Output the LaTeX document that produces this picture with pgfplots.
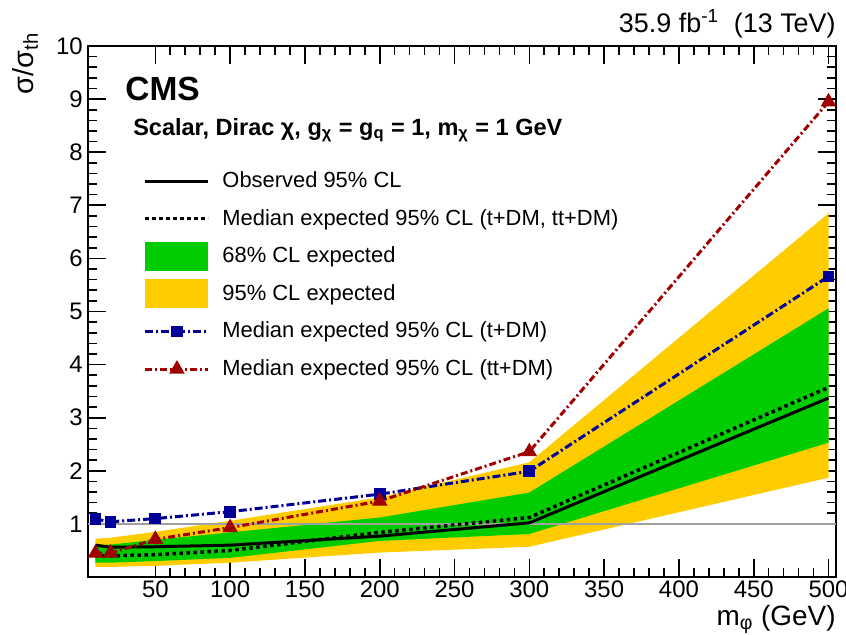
\documentclass[border=0pt]{standalone}
\usepackage{pgfplots}
\pgfplotsset{compat=1.18}
\usepackage{fontspec}
\setmainfont{Liberation Sans}
\definecolor{cmsgreen}{RGB}{0,204,0}
\definecolor{cmsyellow}{RGB}{255,204,0}
\definecolor{cmsblue}{RGB}{0,0,153}
\definecolor{cmsred}{RGB}{160,0,0}
\definecolor{lgray}{RGB}{160,160,160}
\tikzset{
  obsst/.style={black, line width=1.5bp},
  expst/.style={black, line width=1.75bp, dash pattern=on 1.75bp off 1.75bp},
  bluest/.style={cmsblue, line width=1.5bp, dash pattern=on 4bp off 1.5bp on 1bp off 1.5bp, mark=square*, mark size=2.2bp, mark options={solid}},
  redst/.style={cmsred, line width=1.5bp, dash pattern=on 3.5bp off 1.5bp on 1bp off 1.5bp, mark=triangle*, mark size=3bp, mark options={solid}},
  legbox/.style={draw=none, fill=none},
}
\pgfplotsset{
  legobs/.style={legend image code/.code={\path[legbox] (0bp,-9.4bp) rectangle (38.5bp,9.4bp);
      \draw[obsst] (0bp,0bp) -- (31.5bp,0bp);}},
  legexp/.style={legend image code/.code={\path[legbox] (0bp,-9.4bp) rectangle (38.5bp,9.4bp);
      \draw[expst] (0bp,0bp) -- (31.5bp,0bp);}},
  leggreen/.style={legend image code/.code={\path[legbox] (0bp,-9.4bp) rectangle (38.5bp,9.4bp);
      \fill[cmsgreen, draw=none] (0bp,-7.25bp) rectangle (31.5bp,7.25bp);}},
  legyellow/.style={legend image code/.code={\path[legbox] (0bp,-9.4bp) rectangle (38.5bp,9.4bp);
      \fill[cmsyellow, draw=none] (0bp,-7.25bp) rectangle (31.5bp,7.25bp);}},
  legblue/.style={legend image code/.code={\path[legbox] (0bp,-9.4bp) rectangle (38.5bp,9.4bp);
      \draw[bluest] (0bp,0bp) -- (31.5bp,0bp);
      \draw[bluest] plot coordinates {(15.75bp,0bp)};}},
  legred/.style={legend image code/.code={\path[legbox] (0bp,-9.4bp) rectangle (38.5bp,9.4bp);
      \draw[redst] (0bp,0bp) -- (31.5bp,0bp);
      \draw[redst] plot coordinates {(15.75bp,0bp)};}},
}
\begin{document}
\begin{tikzpicture}
\begin{axis}[
  name=ax,
  scale only axis, width=374bp, height=265.5bp,
  clip=false,
  xmin=5, xmax=505, ymin=0, ymax=10,
  xtick={50,100,...,500}, ytick={1,2,...,10},
  minor x tick num=4, minor y tick num=4,
  tick align=inside, xtick pos=both, ytick pos=both,
  major tick length=9bp, minor tick length=4.5bp,
  axis line style={line width=1bp},
  every tick/.append style={black, line width=0.8bp},
  /pgf/number format/assume math mode=true,
  xticklabel style={font=\fontsize{12}{14}\selectfont, inner sep=0pt, yshift=-1.5bp},
  yticklabel style={font=\fontsize{12}{14}\selectfont, inner sep=0pt, xshift=-2.5bp},
  legend cell align=left,
  legend style={at={(0.0745,0.781)}, anchor=north west, draw=none, fill=none,
    inner sep=0pt, outer sep=0pt,
    font=\fontsize{11}{13}\selectfont, row sep=0pt, column sep=0pt,
    nodes={inner sep=0pt}},
]
% 95% band
\addplot[fill=cmsyellow, draw=none, forget plot] coordinates {
 (10,0.72) (20,0.74) (50,0.85) (100,1.06) (200,1.50) (300,2.16) (500,6.85)
 (500,1.87) (300,0.57) (200,0.46) (100,0.27) (50,0.21) (20,0.19) (10,0.19)} -- cycle;
% 68% band
\addplot[fill=cmsgreen, draw=none, forget plot] coordinates {
 (10,0.60) (20,0.61) (50,0.70) (100,0.84) (200,1.12) (300,1.59) (500,5.06)
 (500,2.53) (300,0.81) (200,0.68) (100,0.36) (50,0.30) (20,0.27) (10,0.27)} -- cycle;
% line at 1
\addplot[lgray, line width=1bp, forget plot] coordinates {(5,1) (505,1)};
% median expected
\addplot[expst, forget plot] coordinates {
 (10,0.40) (20,0.40) (50,0.42) (100,0.50) (200,0.84) (300,1.12) (500,3.57)};
% observed
\addplot[obsst, forget plot] coordinates {
 (10,0.60) (20,0.56) (50,0.57) (100,0.60) (200,0.77) (300,1.02) (500,3.37)};
% t+DM
\addplot[bluest, forget plot] coordinates {
 (10,1.09) (20,1.04) (50,1.10) (100,1.23) (200,1.56) (300,1.99) (500,5.66)};
% tt+DM
\addplot[redst, forget plot] coordinates {
 (10,0.45) (20,0.45) (50,0.71) (100,0.93) (200,1.43) (300,2.36) (500,8.95)};

\addlegendimage{legobs}
\addlegendentry{Observed 95\% CL}
\addlegendimage{legexp}
\addlegendentry{Median expected 95\% CL (t+DM, tt+DM)}
\addlegendimage{leggreen}
\addlegendentry{68\% CL expected}
\addlegendimage{legyellow}
\addlegendentry{95\% CL expected}
\addlegendimage{legblue}
\addlegendentry{Median expected 95\% CL (t+DM)}
\addlegendimage{legred}
\addlegendentry{Median expected 95\% CL (tt+DM)}

\node[anchor=base east, inner sep=0pt, font=\fontsize{13.5}{16}\selectfont]
  at (axis description cs:1,1.0245) {35.9 fb\textsuperscript{-1}\ \ (13 TeV)};
\node[anchor=base west, inner sep=0pt, font=\fontsize{16.8}{19}\selectfont\bfseries]
  at (axis description cs:0.0495,0.898) {CMS};
\node[anchor=base west, inner sep=0pt, font=\fontsize{11.8}{13}\selectfont\bfseries]
  at (axis description cs:0.060,0.832) {Scalar, Dirac χ, g\textsubscript{χ} = g\textsubscript{q} = 1, m\textsubscript{χ} = 1 GeV};
\node[anchor=base east, inner sep=0pt, font=\fontsize{14}{16}\selectfont]
  at (axis description cs:1,-0.0904) {m\textsubscript{φ} (GeV)};
\node[anchor=base east, rotate=90, inner sep=0pt, font=\fontsize{14.5}{17}\selectfont]
  at (axis description cs:-0.0735,1.026) {σ/σ\textsubscript{th}};
\end{axis}
\pgfresetboundingbox
\path[use as bounding box] (ax.south west) ++(-44bp,-29bp) rectangle ++(423bp,317.5bp);
\end{tikzpicture}
\end{document}
